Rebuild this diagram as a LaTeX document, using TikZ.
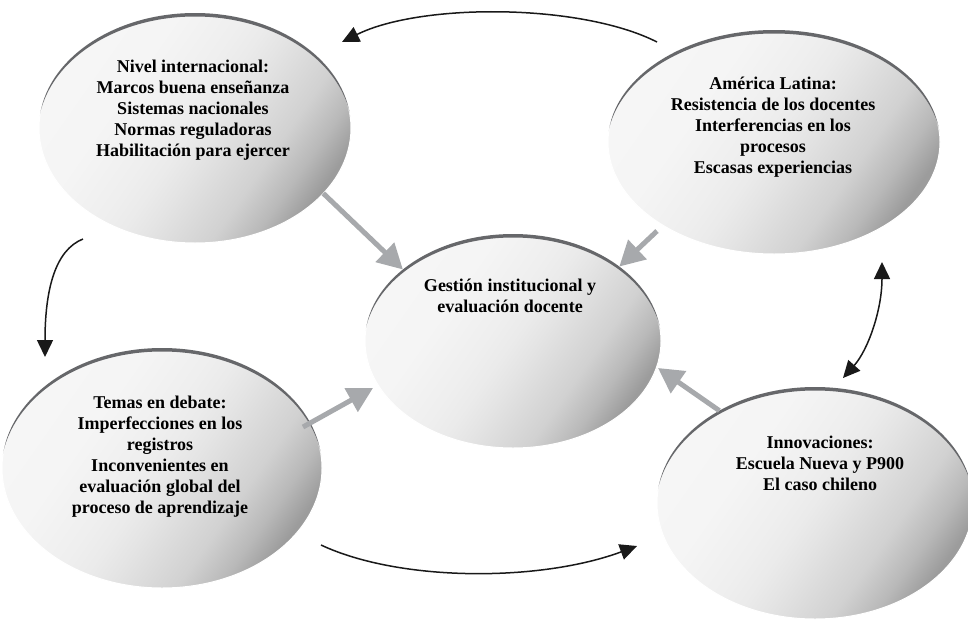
\documentclass[tikz,border=0pt]{standalone}
\usepackage{fontspec}
\setmainfont{Liberation Serif}
\usetikzlibrary{arrows.meta,shapes.geometric,calc}

\definecolor{rimgray}{HTML}{66676A}
\definecolor{linkgray}{HTML}{A7A9AC}

% pale on the left and upper side, grey towards the lower right
% (the middle 25bp--75bp band spans the bubble)
\pgfdeclarehorizontalshading{bubbleshade}{100bp}{%
  color(0bp)=(white!97!black);
  color(25bp)=(white!96.5!black);
  color(36bp)=(white!96!black);
  color(46bp)=(white!93.5!black);
  color(50bp)=(white!92!black);
  color(54bp)=(white!89.5!black);
  color(64bp)=(white!82!black);
  color(70bp)=(white!72.5!black);
  color(75bp)=(white!61!black);
  color(100bp)=(white!61!black)}

\tikzset{
  bubble/.style 2 args={ellipse, inner sep=0pt, outer sep=0pt,
    minimum width=#1, minimum height=#2,
    shade, shading=bubbleshade, shading angle=-35,
    draw=white, line width=1pt},
  btext/.style={font=\bfseries\fontsize{18}{21}\selectfont, align=center, inner sep=0pt},
  feed/.style={draw=linkgray, line width=5pt, -{Triangle[length=25pt, width=26pt]}},
  >={Triangle[length=17pt, width=16pt]},
  flow/.style={draw=black!90, line width=1.5pt},
}

% a shaded bubble with a dark crescent along its upper rim
\newcommand\drawbubble[5]{%
  \node[bubble={#4}{#5}] (#1) at (#2,#3) {};
  \begin{scope}
    \clip (#1.center) ellipse [x radius=#4/2, y radius=#5/2];
    \fill[rimgray, even odd rule]
      ([shift={(-200pt,-200pt)}]#1.center) rectangle ([shift={(200pt,200pt)}]#1.center)
      ([yshift=-4.5pt]#1.center) ellipse [x radius=#4/2+1pt, y radius=#5/2+1pt];
  \end{scope}}

\begin{document}
\begin{tikzpicture}[x=1pt, y=-1pt]
  \useasboundingbox (0,0) rectangle (968,621);

  % topic bubbles
  \drawbubble{intl}{195}{128}{312pt}{230pt}
  \drawbubble{amer}{774}{142}{332pt}{224pt}
  \drawbubble{core}{513}{341}{296pt}{214pt}
  \drawbubble{deb}{162}{468}{320pt}{240pt}
  \drawbubble{innov}{815}{503}{316pt}{232pt}

  % bubble texts
  \node[btext] (intlT) at (193,110) {Nivel internacional:\\Marcos buena enseñanza\\Sistemas nacionales\\Normas reguladoras\\Habilitación para ejercer};
  \node[btext] (amerT) at (773,127) {América Latina:\\Resistencia de los docentes\\Interferencias en los\\procesos\\Escasas experiencias};
  \node[btext] (coreT) at (510,296) {Gestión institucional y\\evaluación docente};
  \node[btext] (debT) at (160,457) {Temas en debate:\\Imperfecciones en los\\registros\\Inconvenientes en\\evaluación global del\\proceso de aprendizaje};
  \node[btext] (innovT) at (820,463) {Innovaciones:\\Escuela Nueva y P900\\El caso chileno};

  % grey arrows into the central bubble
  \draw[feed] (intl.-27) -- (core.147.5);
  \draw[feed] ($(amer)+(-117,89)$) -- (core.35);
  \draw[feed] ($(deb)+(141,-41)$) -- ($(core)+(-140,47)$);
  \draw[feed] (innov.136) -- ($(core)+(145,27)$);

  % black cycle arrows between the outer bubbles
  \coordinate (c1s) at ($(amer)+(-117,-100)$);
  \coordinate (c1e) at ($(intl)+(147,-86)$);
  \draw[flow, ->] (c1s) .. controls (580,3) and (420,3) .. (c1e);

  \coordinate (c2s) at ($(intl)+(-112,111)$);
  \coordinate (c2e) at ($(deb)+(-117,-111)$);
  \draw[flow, ->] (c2s) .. controls (55,250) and (45,290) .. (c2e);

  \coordinate (c3s) at ($(deb)+(159,77)$);
  \coordinate (c3e) at ($(innov)+(-178,43)$);
  \draw[flow, ->] (c3s) .. controls (400,582) and (540,582) .. (c3e);

  \coordinate (c4s) at ($(innov)+(28,-125)$);
  \coordinate (c4e) at ($(amer)+(108,120)$);
  \draw[flow, <->] (c4s) .. controls (868,350) and (882,310) .. (c4e);
\end{tikzpicture}
\end{document}
